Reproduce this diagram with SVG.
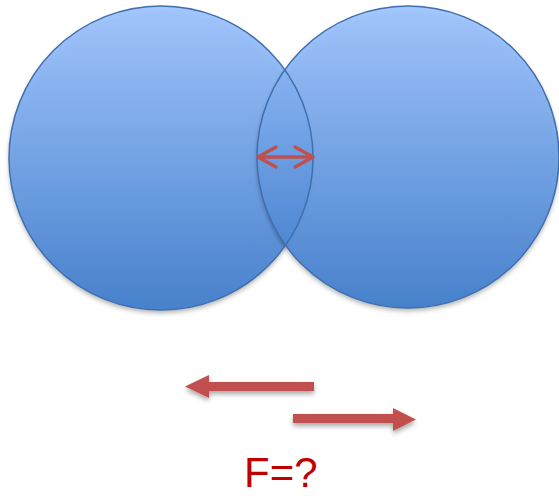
<svg xmlns="http://www.w3.org/2000/svg" width="559" height="496" viewBox="0 0 559 496">
<defs>
<linearGradient id="g" x1="0" y1="0" x2="0" y2="1">
<stop offset="0" stop-color="#9cc3ff"/>
<stop offset="1" stop-color="#3b7acb"/>
</linearGradient>
<filter id="sh" x="-20%" y="-20%" width="140%" height="140%">
<feGaussianBlur in="SourceAlpha" stdDeviation="2.5"/>
<feOffset dx="0" dy="3" result="b"/>
<feComponentTransfer><feFuncA type="linear" slope="0.35"/></feComponentTransfer>
<feMerge><feMergeNode/><feMergeNode in="SourceGraphic"/></feMerge>
</filter>
</defs>
<style>
.c{fill:url(#g);stroke:none;fill-opacity:0.9}
.o{fill:none;stroke:#3f6fae;stroke-width:1.5}
.ar{fill:#c0504d}
.dl{fill:none;stroke:#c0504d;stroke-width:3.5;stroke-linecap:round;stroke-linejoin:round}
.t{font-family:"Liberation Sans",Arial,sans-serif;font-size:42px;fill:#c00000}
</style>
<g id="circle-left" filter="url(#sh)">
<circle class="c" cx="161" cy="158" r="152"/>
</g>
<g id="circle-right" filter="url(#sh)">
<circle class="c" cx="408" cy="157" r="151"/>
</g>
<g id="outlines">
<circle class="o" cx="161" cy="158" r="152"/>
<circle class="o" cx="408" cy="157" r="151"/>
</g>
<g id="connectors">
<g id="lens-arrow">
<line class="dl" x1="259" y1="157" x2="312" y2="157"/>
<polyline class="dl" points="276,147 258,157 276,167"/>
<polyline class="dl" points="295,147 313,157 295,167"/>
</g>
<g filter="url(#sh)">
<polygon class="ar" points="314,382 209,382 209,375 185,386.5 209,398 209,391 314,391"/>
<polygon class="ar" points="293,414 393,414 393,408 416,419.5 393,431 393,423 293,423"/>
</g>
</g>
<g id="label">
<text class="t" x="244" y="487">F=?</text>
</g>
</svg>
